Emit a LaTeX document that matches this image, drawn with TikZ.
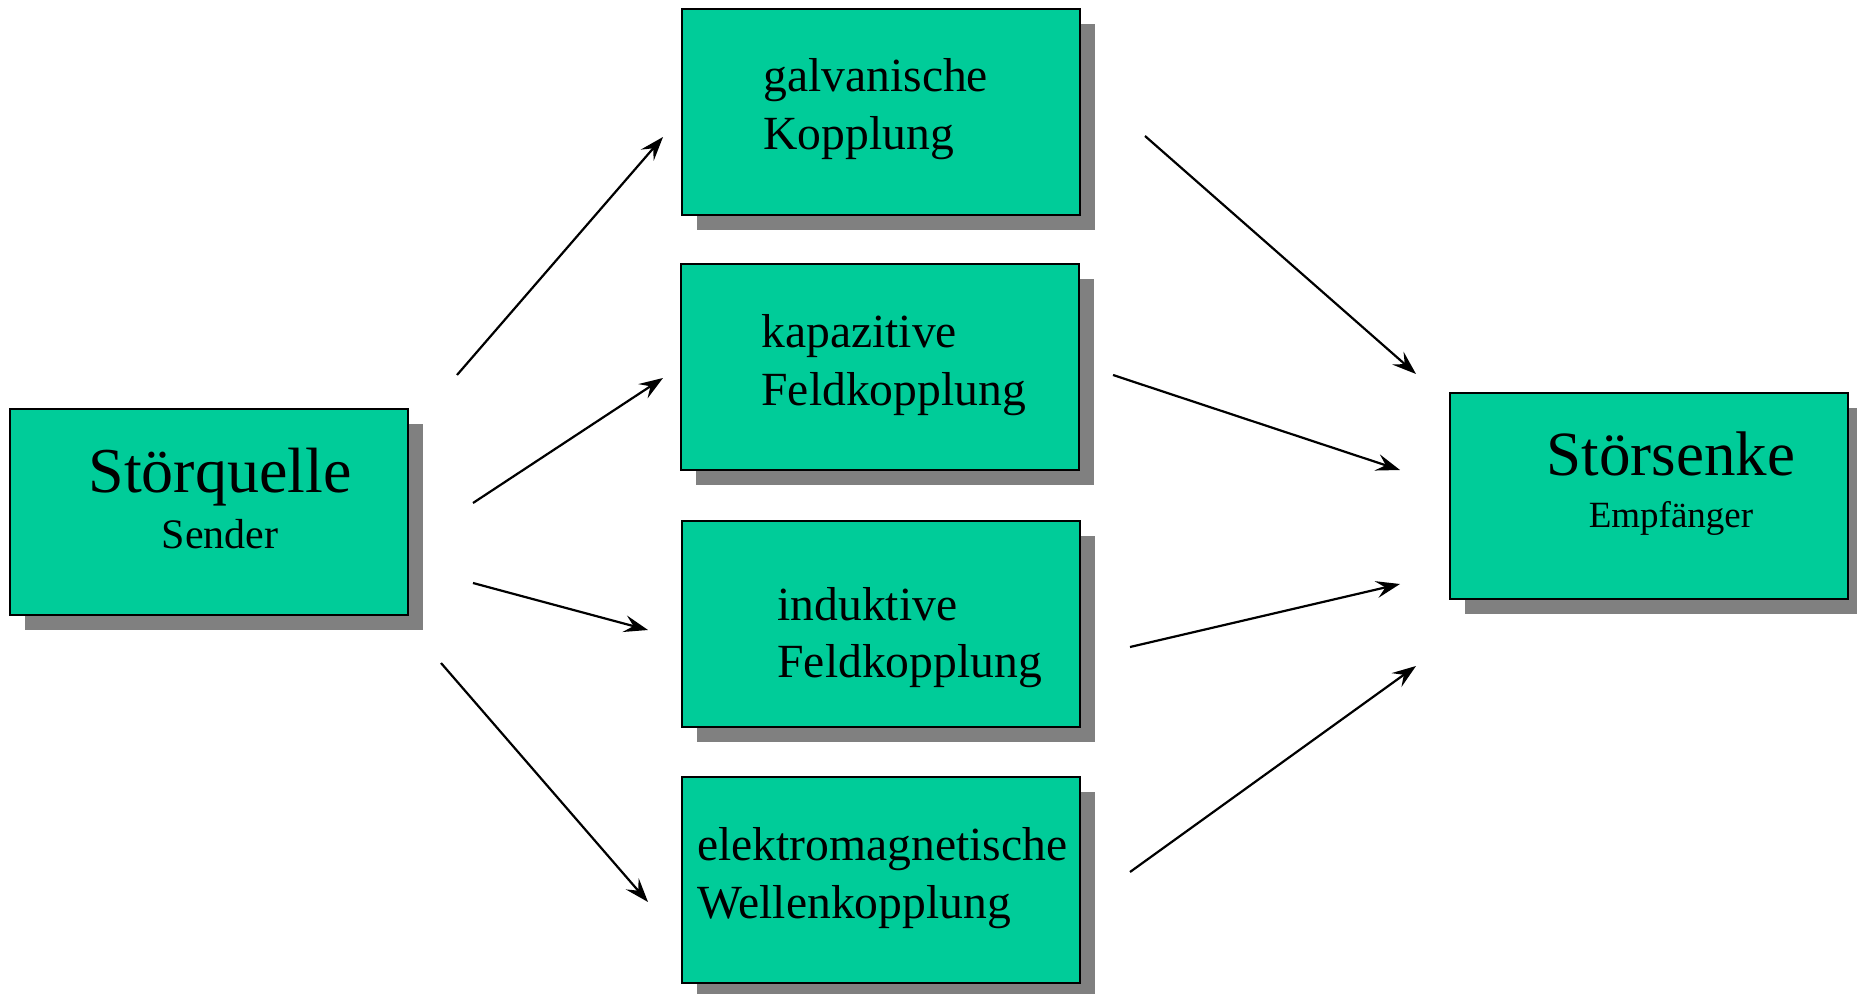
\documentclass[tikz,border=0pt]{standalone}
\usepackage{fontspec}
\setmainfont{Liberation Serif}
\usetikzlibrary{arrows.meta,shadows}
\definecolor{boxgreen}{HTML}{00CC99}
\definecolor{shadowgray}{HTML}{808080}
\begin{document}
\begin{tikzpicture}[x=0.5pt,y=-0.5pt,
  box/.style={draw=black,line width=1pt,fill=boxgreen,minimum width=199pt,minimum height=103pt,inner sep=0pt,
    drop shadow={shadow xshift=7.5pt,shadow yshift=-7.5pt,fill=shadowgray,opacity=1}},
  boxtext/.style={anchor=base west,inner sep=0pt,font=\fontsize{23.8}{28}\selectfont},
  bigtitle/.style={anchor=base,inner sep=0pt,font=\fontsize{32}{36}\selectfont},
  conn/.style={line width=1.1pt,-{Stealth[length=12pt,width=8.5pt,inset=4.5pt]}}]
\useasboundingbox (0,0) rectangle (1857,994);
\clip (0,0) rectangle (1857,994);
% boxes
\node[box] (quelle) at (209,512) {};
\node[box] (galv) at (881,112) {};
\node[box] (kap) at (880,367) {};
\node[box] (ind) at (881,624) {};
\node[box] (em) at (881,880) {};
\node[box] (senke) at (1649,496) {};
% texts
\node[bigtitle] (tq) at (220,492) {Störquelle};
\node[anchor=base,inner sep=0pt,font=\fontsize{21}{24}\selectfont] (tsender) at (220,548) {Sender};
\node[bigtitle,font=\fontsize{31.5}{36}\selectfont] (ts) at (1671,475) {Störsenke};
\node[anchor=base,inner sep=0pt,font=\fontsize{18.5}{22}\selectfont] (temp) at (1671,527) {Empfänger};
\node[boxtext] (g1) at (763,92) {galvanische};
\node[boxtext] (g2) at (763,150) {Kopplung};
\node[boxtext] (k1) at (761,348) {kapazitive};
\node[boxtext] (k2) at (761,406) {Feldkopplung};
\node[boxtext] (i1) at (777,620) {induktive};
\node[boxtext] (i2) at (777,677) {Feldkopplung};
\node[boxtext] (e1) at (697,860) {elektromagnetische};
\node[boxtext] (e2) at (697,918) {Wellenkopplung};
% connector end points
\coordinate (a1s) at (457,375); \coordinate (a1e) at (663,137);
\coordinate (a2s) at (473,503); \coordinate (a2e) at (663,378);
\coordinate (a3s) at (473,583); \coordinate (a3e) at (648,630);
\coordinate (a4s) at (441,663); \coordinate (a4e) at (648,902);
\coordinate (b1s) at (1145,136); \coordinate (b1e) at (1416,374);
\coordinate (b2s) at (1113,375); \coordinate (b2e) at (1400,470);
\coordinate (b3s) at (1130,647); \coordinate (b3e) at (1400,584);
\coordinate (b4s) at (1130,872); \coordinate (b4e) at (1416,666);
\draw[conn] (a1s) -- (a1e);
\draw[conn] (a2s) -- (a2e);
\draw[conn] (a3s) -- (a3e);
\draw[conn] (a4s) -- (a4e);
\draw[conn] (b1s) -- (b1e);
\draw[conn] (b2s) -- (b2e);
\draw[conn] (b3s) -- (b3e);
\draw[conn] (b4s) -- (b4e);
\end{tikzpicture}
\end{document}
